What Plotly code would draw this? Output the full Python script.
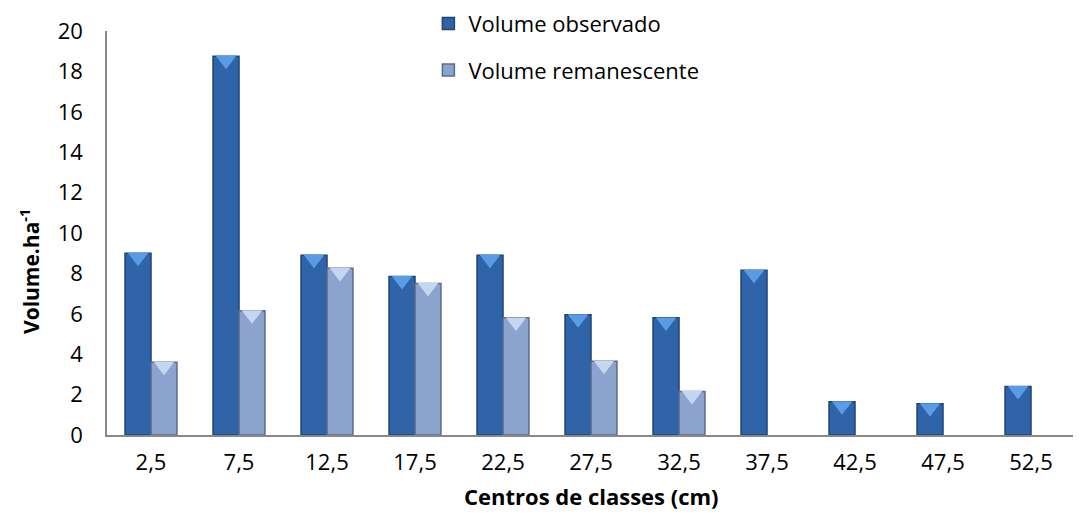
import plotly.graph_objects as go

categorias = ["2,5", "7,5", "12,5", "17,5", "22,5", "27,5", "32,5", "37,5", "42,5", "47,5", "52,5"]
volume_observado = [9.0, 18.75, 8.9, 7.85, 8.9, 5.95, 5.8, 8.15, 1.65, 1.55, 2.4]
volume_remanescente = [3.6, 6.15, 8.25, 7.5, 5.8, 3.65, 2.15, 0, 0, 0, 0]

FONT = "Open Sans"
BARGAP = 0.41
half = (1 - BARGAP) / 4  # centre offset of each bar within a group

fig = go.Figure()
fig.add_trace(go.Bar(
    x=categorias, y=volume_observado, name="Volume observado",
    marker=dict(color="#2F64A8",
                line=dict(color="#1D4474", width=[1.5 if v > 0 else 0 for v in volume_observado])),
    legendgroup="a",
))
fig.add_trace(go.Bar(
    x=categorias, y=volume_remanescente, name="Volume remanescente",
    marker=dict(color="#8CA3CE",
                line=dict(color="#5A6C8E", width=[1.5 if v > 0 else 0 for v in volume_remanescente])),
    legendgroup="b",
))

# bevel caps (light inverted triangles at the top of each bar)
idx = list(range(len(categorias)))
cap_shift = 0.2
fig.add_trace(go.Scatter(
    x=[i - half for i, v in zip(idx, volume_observado) if v > 0],
    y=[v - cap_shift for v in volume_observado if v > 0],
    mode="markers", xaxis="x2", showlegend=False, hoverinfo="skip",
    marker=dict(symbol="triangle-down", size=18, color="#5A9BE8", line=dict(width=0)),
))
fig.add_trace(go.Scatter(
    x=[i + half for i, v in zip(idx, volume_remanescente) if v > 0],
    y=[v - cap_shift for v in volume_remanescente if v > 0],
    mode="markers", xaxis="x2", showlegend=False, hoverinfo="skip",
    marker=dict(symbol="triangle-down", size=18, color="#C4D6F0", line=dict(width=0)),
))

fig.update_layout(
    width=1081, height=522,
    paper_bgcolor="white", plot_bgcolor="white",
    margin=dict(l=99, r=14, t=23, b=95, autoexpand=False),
    barmode="group", bargap=BARGAP, bargroupgap=0,
    font=dict(family=FONT, size=22, color="#000000"),
    showlegend=True,
    legend=dict(
        x=0.332, y=1.07, xanchor="left", yanchor="top",
        bgcolor="rgba(0,0,0,0)", font=dict(size=22, family=FONT),
        traceorder="grouped", tracegroupgap=15,
    ),
    xaxis=dict(
        showline=True, linecolor="#888888", linewidth=2,
        ticks="", showgrid=False, ticklabelstandoff=7,
        tickfont=dict(size=22, family=FONT),
    ),
    xaxis2=dict(overlaying="x", range=[-0.5, len(categorias) - 0.5], visible=False),
    yaxis=dict(
        range=[0, 20], dtick=2, showline=True, linecolor="#888888", linewidth=1.5,
        showgrid=False, zeroline=False, ticks="", ticklabelstandoff=18,
        tickfont=dict(size=22, family=FONT),
    ),
    annotations=[
        dict(text="<b>Centros de classes (cm)</b>", xref="paper", yref="paper",
             x=0.5, y=-0.152, xanchor="center", yanchor="middle", showarrow=False,
             font=dict(size=22, family=FONT)),
        dict(text="<b>Volume.ha<sup>-1</sup></b>", xref="paper", yref="paper",
             x=-0.0795, y=0.406, xanchor="center", yanchor="middle", showarrow=False,
             textangle=-90, font=dict(size=21, family=FONT)),
    ],
)

fig.write_html("out.html")
